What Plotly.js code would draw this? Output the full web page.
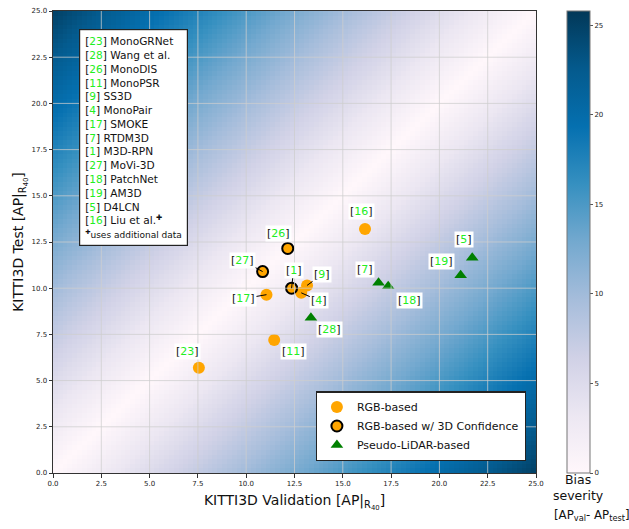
<!DOCTYPE html>
<html>
<head>
<meta charset="utf-8">
<script src="https://cdn.plot.ly/plotly-3.0.1.min.js"></script>
<style>html,body{margin:0;padding:0;background:#fff;}#chart{width:629px;height:529px;}</style>
</head>
<body>
<div id="chart"></div>
<script>
// ---- data ----
const rgbIds = ['23', '11', '17', '9', '4', '16'];
const rgbVal = [7.55, 11.45, 11.05, 13.15, 12.85, 16.15];
const rgbTest = [5.7, 7.2, 9.65, 10.15, 9.75, 13.2];

const confIds = ['26', '27', '1'];
const confVal = [12.15, 10.85, 12.35];
const confTest = [12.15, 10.9, 10.0];

const lidarIds = ['7', '18', '19', '5', '28'];
const lidarVal = [16.85, 17.35, 21.1, 21.7, 13.35];
const lidarTest = [10.3, 10.1, 10.7, 11.65, 8.4];

const refIds = ['23', '28', '26', '11', '9', '4', '17', '7', '1', '27', '18', '19', '5', '16'];
const refNames = ['MonoGRNet', 'Wang et al.', 'MonoDIS', 'MonoPSR', 'SS3D', 'MonoPair', 'SMOKE',
  'RTDM3D', 'M3D-RPN', 'MoVi-3D', 'PatchNet', 'AM3D', 'D4LCN', 'Liu et al.'];

const axisTicks = [0, 2.5, 5, 7.5, 10, 12.5, 15, 17.5, 20, 22.5, 25];
const cbTicks = [0, 5, 10, 15, 20, 25];

// ---- label placement (pixel offsets from the marker) ----
const labelPos = {
  '23': [-11, -16, false], '11': [19, 12, false], '17': [-23, 4, true], '9': [15, -11, true],
  '4': [18, 8, true], '16': [-4, -18, false], '26': [-9, -15, false], '27': [-20, -11, true],
  '1': [2, -18, true], '7': [-14, -13, false], '18': [21, 14, false], '19': [-19, -14, false],
  '5': [-8, -18, false], '28': [19, 12, false]
};

const GREEN = '#22ee22';
const FONT = 'DejaVu Sans';

// background bias field |val - test|
const step = 0.25;
const cells = [];
for (let v = step / 2; v < 25; v += step) cells.push(v);
const z = cells.map(yy => cells.map(xx => Math.abs(xx - yy)));

const PuBu = [[0, '#fff7fb'], [0.125, '#ece7f2'], [0.25, '#d0d1e6'], [0.375, '#a6bddb'],
  [0.5, '#74a9cf'], [0.625, '#3690c0'], [0.75, '#0570b0'], [0.875, '#045a8d'], [1, '#023858']];

const traces = [
  {
    type: 'heatmap', x: cells, y: cells, z: z, zmin: 0, zmax: 25.8, colorscale: PuBu,
    hoverinfo: 'skip', showlegend: false,
    colorbar: {
      x: 1.0635, xanchor: 'left', xpad: 0, y: 0, yanchor: 'bottom', ypad: 0, len: 1, lenmode: 'fraction',
      thickness: 23, outlinecolor: '#777', outlinewidth: 1,
      tickvals: cbTicks, ticktext: cbTicks.map(String), ticks: 'outside', ticklen: 3,
      tickcolor: '#555', tickfont: {family: FONT, size: 7, color: '#222'}
    }
  },
  {
    type: 'scatter', mode: 'markers', name: 'RGB-based', x: rgbVal, y: rgbTest,
    marker: {color: '#ffa500', size: 12, line: {width: 0}}
  },
  {
    type: 'scatter', mode: 'markers', name: 'RGB-based w/ 3D Confidence', x: confVal, y: confTest,
    marker: {color: '#ffa500', size: 11, line: {width: 2, color: '#000'}}
  },
  {
    type: 'scatter', mode: 'markers', name: 'Pseudo-LiDAR-based', x: lidarVal, y: lidarTest,
    marker: {color: '#008000', size: 11, symbol: 'triangle-up', line: {width: 0}}
  }
];

const annotations = [];
function addLabels(ids, xs, ys) {
  ids.forEach((id, i) => {
    const p = labelPos[id];
    annotations.push({
      x: xs[i], y: ys[i], xref: 'x', yref: 'y',
      text: '[<span style="color:' + GREEN + '">' + id + '</span>]',
      showarrow: true, ax: p[0], ay: p[1], arrowhead: 0, arrowwidth: 1, standoff: 0,
      arrowcolor: p[2] ? '#000' : 'rgba(0,0,0,0)',
      bgcolor: '#ffffff', borderpad: 1,
      font: {family: FONT, size: 11, color: '#111'}
    });
  });
}
addLabels(rgbIds, rgbVal, rgbTest);
addLabels(confIds, confVal, confTest);
addLabels(lidarIds, lidarVal, lidarTest);

// reference list box
const refLines = refIds.map((id, i) => '[<span style="color:' + GREEN + '">' + id + '</span>] ' + refNames[i] +
  (id === '16' ? '<sup>✚</sup>' : ''));
refLines.push('<span style="font-size:9px"><sup>✚</sup>uses additional data</span>');
annotations.push({
  xref: 'paper', yref: 'paper', x: 0.0548, y: 0.961, xanchor: 'left', yanchor: 'top',
  align: 'left', showarrow: false, text: refLines.join('<br>'),
  bgcolor: '#ffffff', bordercolor: '#222', borderwidth: 1.2, borderpad: 5,
  font: {family: FONT, size: 10.6, color: '#111'}
});

// colorbar title
annotations.push({
  xref: 'paper', yref: 'paper', x: 1.0875, y: 0.007, xanchor: 'center', yanchor: 'top',
  showarrow: false, text: 'Bias<br>severity',
  font: {family: FONT, size: 12.5, color: '#111'}
});
annotations.push({
  xref: 'paper', yref: 'paper', x: 1.034, y: -0.092, xanchor: 'left', yanchor: 'middle',
  showarrow: false, text: '[AP<sub>val</sub>- AP<sub>test</sub>]',
  font: {family: FONT, size: 11.8, color: '#111'}
});

// grid lines above the heatmap
const shapes = [];
axisTicks.slice(1, -1).forEach(t => {
  shapes.push({type: 'line', xref: 'x', yref: 'paper', x0: t, x1: t, y0: 0, y1: 1,
    line: {color: 'rgba(205,205,205,0.75)', width: 1}, layer: 'above'});
  shapes.push({type: 'line', xref: 'paper', yref: 'y', x0: 0, x1: 1, y0: t, y1: t,
    line: {color: 'rgba(205,205,205,0.75)', width: 1}, layer: 'above'});
});

const axisCommon = {
  range: [0, 25], tickvals: axisTicks, ticktext: axisTicks.map(t => t.toFixed(1)),
  ticks: 'outside', ticklen: 3.5, tickcolor: '#333', showgrid: false, zeroline: false,
  showline: true, mirror: true, linecolor: '#333', linewidth: 1,
  tickfont: {family: FONT, size: 7, color: '#222'}, layer: 'above traces'
};

const layout = {
  width: 629, height: 529,
  margin: {l: 52.5, r: 93, t: 11, b: 56.3, autoexpand: false},
  paper_bgcolor: '#ffffff', plot_bgcolor: '#ffffff',
  font: {family: FONT},
  xaxis: Object.assign({}, axisCommon, {
    title: {text: 'KITTI3D Validation [AP|<sub>R<sub>40</sub></sub>]', font: {family: FONT, size: 14, color: '#111'}, standoff: 8}
  }),
  yaxis: Object.assign({}, axisCommon, {
    title: {text: 'KITTI3D Test [AP|<sub>R<sub>40</sub></sub>]', font: {family: FONT, size: 14, color: '#111'}, standoff: 4}
  }),
  legend: {
    x: 0.9787, xanchor: 'right', y: 0.0253, yanchor: 'bottom',
    bgcolor: '#ffffff', bordercolor: '#222', borderwidth: 1.2,
    font: {family: FONT, size: 11, color: '#111'}, tracegroupgap: 0, itemwidth: 30
  },
  annotations: annotations,
  shapes: shapes
};

Plotly.newPlot('chart', traces, layout, {displayModeBar: false, staticPlot: true});
</script>
</body>
</html>
